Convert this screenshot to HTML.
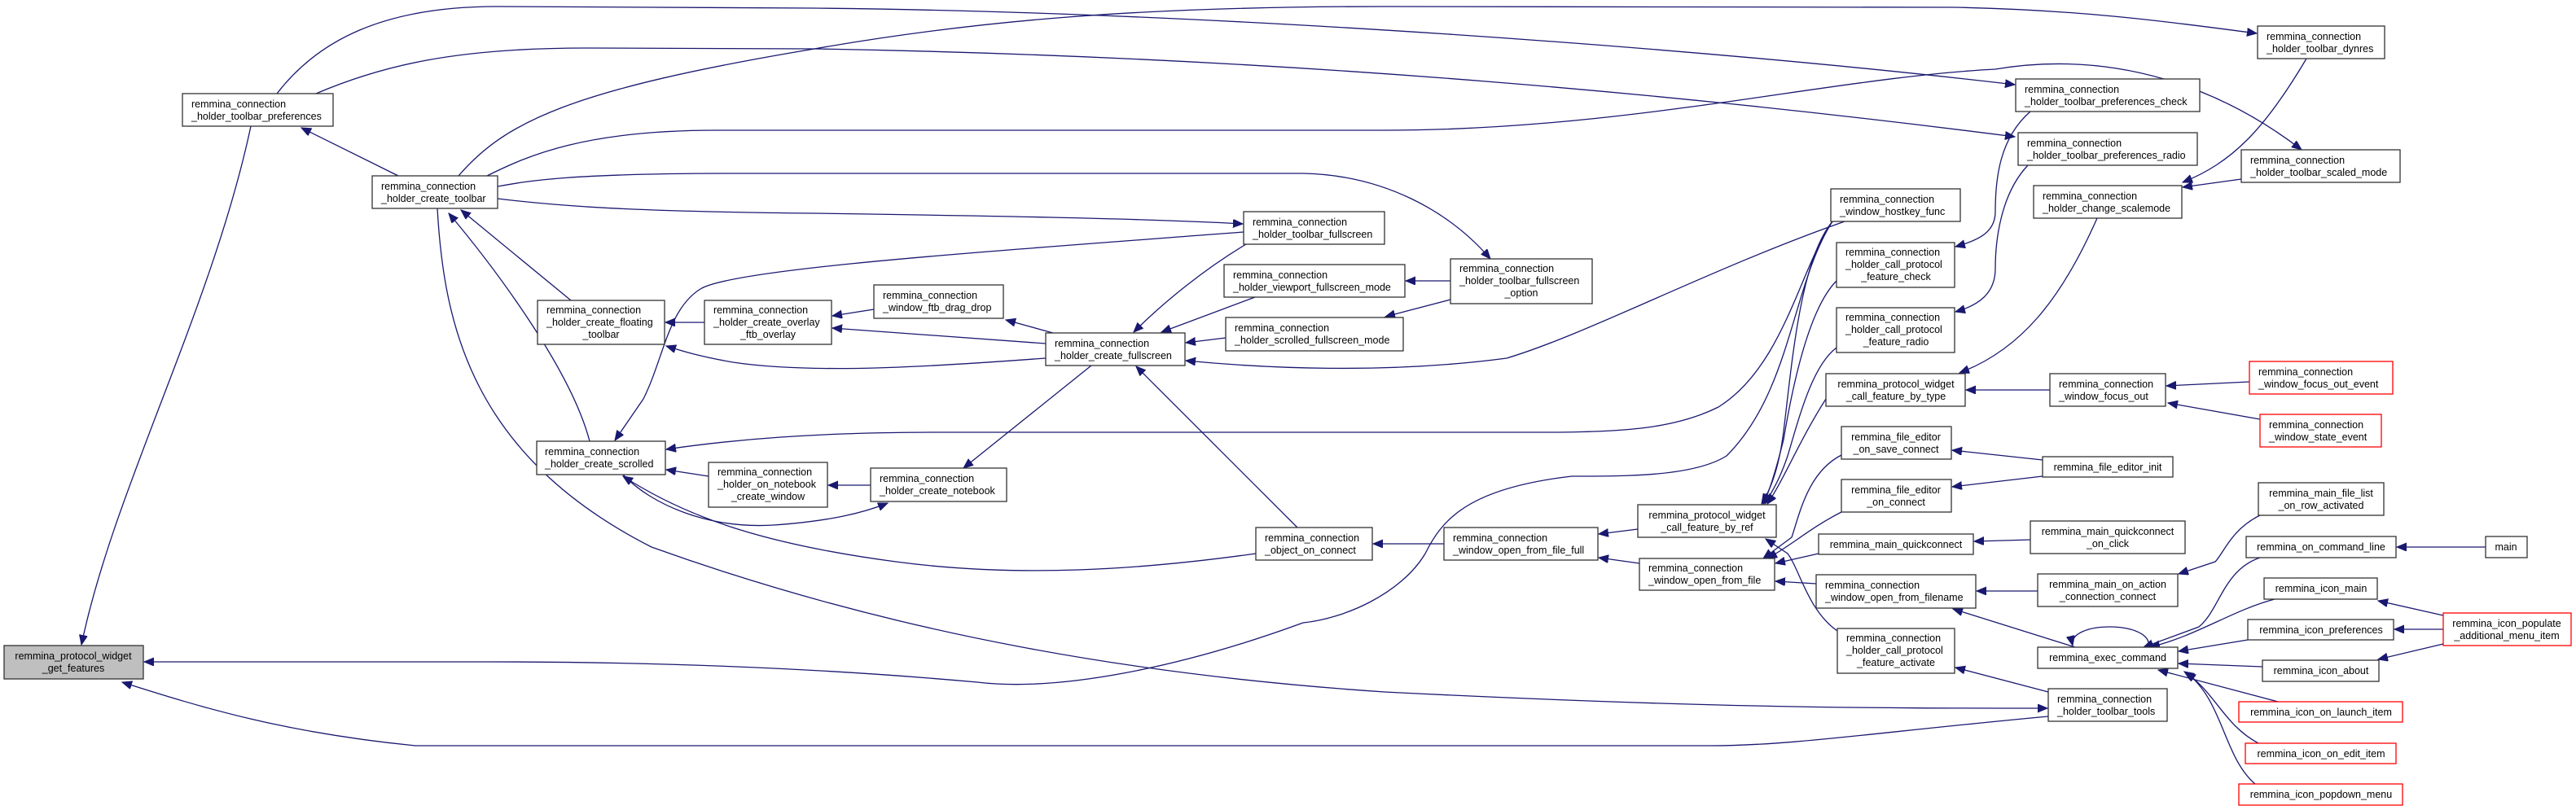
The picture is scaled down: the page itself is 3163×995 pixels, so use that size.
<!DOCTYPE html>
<html><head><meta charset="utf-8"><style>
html,body{margin:0;padding:0;background:#fff;}
svg{display:block;}
text{font-family:"Liberation Sans",sans-serif;font-size:12.5px;fill:#000;}
.e{fill:none;stroke:#191970;stroke-width:1.3;marker-end:url(#a);}
.n{fill:#fff;stroke:#333;stroke-width:1.3;}
.r{fill:#fff;stroke:#ff0000;stroke-width:1.3;}
</style></head><body>
<svg width="3163" height="995" viewBox="0 0 3163 995" xmlns="http://www.w3.org/2000/svg">
<defs><marker id="a" markerUnits="userSpaceOnUse" markerWidth="14" markerHeight="12" refX="12" refY="5" orient="auto"><path d="M0,0 L12,5 L0,10 z" fill="#191970" stroke="#191970"/></marker></defs>
<g>
<path class="e" d="M308,155 C260,380 140,600 100,792"/>
<path class="e" d="M489,216 L370,157"/>
<path class="e" d="M340,115 C390,50 470,8 610,8 L1000,10 C1500,15 2100,60 2474,104"/>
<path class="e" d="M388,115 C470,80 560,59 720,59 L1000,60 C1600,70 2100,120 2474,168"/>
<path class="e" d="M563,216 C620,150 700,110 1000,60 C1200,25 1400,8 1700,8 L2400,9 C2550,12 2650,25 2771,41"/>
<path class="e" d="M598,216 C650,190 720,160 880,160 L1700,160 C2000,160 2250,95 2450,85 C2600,60 2730,110 2826,184"/>
<path class="e" d="M611,229 C650,222 700,213 900,213 L1600,213 C1700,215 1780,260 1830,318"/>
<path class="e" d="M611,244 C700,255 800,260 1000,262 C1200,265 1400,268 1526,275"/>
<path class="e" d="M1527,285 C1200,310 900,330 860,355 C820,380 815,440 790,490 L755,541"/>
<path class="e" d="M537,256 C545,400 580,560 800,672 C1100,780 1400,830 1700,850 C2100,870 2300,870 2514,870"/>
<path class="e" d="M701,369 L566,258"/>
<path class="e" d="M724,542 C700,450 600,320 551,262"/>
<path class="e" d="M865,396 L817,396"/>
<path class="e" d="M1073,380 L1022,388"/>
<path class="e" d="M1284,422 L1022,403"/>
<path class="e" d="M1284,440 C1150,450 1000,460 900,445 C860,438 840,432 818,425"/>
<path class="e" d="M1293,409 L1235,393"/>
<path class="e" d="M1530,300 C1480,330 1430,370 1392,408"/>
<path class="e" d="M1541,365 L1426,408"/>
<path class="e" d="M1505,415 L1456,421"/>
<path class="e" d="M2265,272 C2100,330 1950,410 1850,440 C1700,460 1550,452 1456,443"/>
<path class="e" d="M1781,345 L1726,345"/>
<path class="e" d="M1781,368 L1701,389"/>
<path class="e" d="M1340,449 L1183,575"/>
<path class="e" d="M1593,648 L1395,450"/>
<path class="e" d="M1069,596 L1017,596"/>
<path class="e" d="M870,585 L818,577"/>
<path class="e" d="M765,583 C800,620 870,650 950,645 C1020,640 1060,630 1090,618"/>
<path class="e" d="M1542,680 C1400,700 1250,710 1100,690 C950,670 850,640 765,585"/>
<path class="e" d="M2250,272 C2210,330 2190,450 2110,500 C2060,525 2000,531 1900,531 L1150,531 C1000,531 900,540 818,552"/>
<path class="e" d="M2250,272 C2200,350 2200,480 2120,560 C2080,585 2000,585 1930,585 C1800,600 1770,640 1750,680 C1720,730 1650,760 1600,765 C1450,820 1300,850 1200,838 C1000,820 800,813 600,813 L177,813"/>
<path class="e" d="M2515,880 C2300,900 2200,916 2100,916 L510,916 C350,900 250,870 150,838"/>
<path class="e" d="M2250,272 C2210,320 2200,450 2190,530 C2185,570 2175,600 2163,619"/>
<path class="e" d="M2255,345 C2220,380 2200,480 2190,540 C2180,580 2172,605 2165,619"/>
<path class="e" d="M2255,427 C2225,450 2210,510 2195,560 C2185,590 2175,605 2167,619"/>
<path class="e" d="M2242,490 C2210,540 2190,590 2170,619"/>
<path class="e" d="M2256,775 C2220,750 2210,700 2195,680 L2168,662"/>
<path class="e" d="M2261,559 C2220,580 2210,630 2200,660 L2165,686"/>
<path class="e" d="M2261,629 C2220,650 2200,670 2170,686"/>
<path class="e" d="M2233,680 L2180,692"/>
<path class="e" d="M2230,717 L2180,714"/>
<path class="e" d="M2011,650 L1963,656"/>
<path class="e" d="M2013,692 L1963,685"/>
<path class="e" d="M1773,668 L1686,668"/>
<path class="e" d="M2493,137 C2455,170 2450,220 2450,260 C2450,285 2430,295 2401,303"/>
<path class="e" d="M2490,203 C2455,240 2450,300 2450,330 C2450,360 2430,375 2401,383"/>
<path class="e" d="M2575,268 C2530,370 2480,430 2406,458"/>
<path class="e" d="M2832,72 C2780,160 2740,200 2680,224"/>
<path class="e" d="M2752,220 L2680,230"/>
<path class="e" d="M2517,479 L2414,479"/>
<path class="e" d="M2762,469 L2660,474"/>
<path class="e" d="M2775,515 L2662,495"/>
<path class="e" d="M2508,565 L2397,553"/>
<path class="e" d="M2508,585 L2397,598"/>
<path class="e" d="M2493,663 L2424,665"/>
<path class="e" d="M2502,726 L2427,726"/>
<path class="e" d="M2548,795 L2398,748"/>
<path class="e" d="M2775,633 C2740,650 2730,680 2720,690 L2675,705"/>
<path class="e" d="M2775,685 C2730,700 2725,750 2700,770 L2632,795"/>
<path class="e" d="M2793,736 C2740,750 2700,780 2640,795"/>
<path class="e" d="M2760,786 L2675,800"/>
<path class="e" d="M2778,819 L2675,815"/>
<path class="e" d="M2797,862 L2650,823"/>
<path class="e" d="M2773,913 C2730,890 2720,850 2682,825"/>
<path class="e" d="M2769,963 C2730,930 2730,860 2684,826"/>
<path class="e" d="M2638,795 C2645,762 2538,762 2545,793"/>
<path class="e" d="M3052,672 L2943,672"/>
<path class="e" d="M3000,756 L2920,738"/>
<path class="e" d="M3000,773 L2940,773"/>
<path class="e" d="M3000,791 L2920,810"/>
<path class="e" d="M2515,850 L2401,820"/>
</g>
<g>
<rect x="5" y="793" width="171" height="41" fill="#bfbfbf" stroke="#333" stroke-width="1.3"/>
<text x="90" y="810" text-anchor="middle">remmina_protocol_widget</text><text x="90" y="825" text-anchor="middle">_get_features</text>

<rect class="n" x="224" y="115" width="185" height="40"/><text x="235" y="132">remmina_connection</text><text x="235" y="147">_holder_toolbar_preferences</text>
<rect class="n" x="457" y="216" width="154" height="40"/><text x="468" y="233">remmina_connection</text><text x="468" y="248">_holder_create_toolbar</text>
<rect class="n" x="660" y="369" width="156" height="54"/><text x="671" y="385">remmina_connection</text><text x="671" y="400">_holder_create_floating</text><text x="738" y="415" text-anchor="middle">_toolbar</text>
<rect class="n" x="659" y="542" width="158" height="41"/><text x="669" y="559">remmina_connection</text><text x="669" y="574">_holder_create_scrolled</text>
<rect class="n" x="865" y="369" width="156" height="54"/><text x="876" y="385">remmina_connection</text><text x="876" y="400">_holder_create_overlay</text><text x="943" y="415" text-anchor="middle">_ftb_overlay</text>
<rect class="n" x="870" y="568" width="146" height="55"/><text x="881" y="584">remmina_connection</text><text x="881" y="599">_holder_on_notebook</text><text x="943" y="614" text-anchor="middle">_create_window</text>
<rect class="n" x="1073" y="350" width="159" height="41"/><text x="1084" y="367">remmina_connection</text><text x="1084" y="382">_window_ftb_drag_drop</text>
<rect class="n" x="1069" y="575" width="167" height="41"/><text x="1080" y="592">remmina_connection</text><text x="1080" y="607">_holder_create_notebook</text>
<rect class="n" x="1284" y="409" width="171" height="40"/><text x="1295" y="426">remmina_connection</text><text x="1295" y="441">_holder_create_fullscreen</text>
<rect class="n" x="1527" y="260" width="173" height="40"/><text x="1538" y="277">remmina_connection</text><text x="1538" y="292">_holder_toolbar_fullscreen</text>
<rect class="n" x="1503" y="325" width="222" height="40"/><text x="1514" y="342">remmina_connection</text><text x="1514" y="357">_holder_viewport_fullscreen_mode</text>
<rect class="n" x="1505" y="390" width="218" height="41"/><text x="1516" y="407">remmina_connection</text><text x="1516" y="422">_holder_scrolled_fullscreen_mode</text>
<rect class="n" x="1542" y="648" width="143" height="40"/><text x="1553" y="665">remmina_connection</text><text x="1553" y="680">_object_on_connect</text>
<rect class="n" x="1781" y="318" width="174" height="55"/><text x="1792" y="334">remmina_connection</text><text x="1792" y="349">_holder_toolbar_fullscreen</text><text x="1868" y="364" text-anchor="middle">_option</text>
<rect class="n" x="1773" y="648" width="189" height="40"/><text x="1784" y="665">remmina_connection</text><text x="1784" y="680">_window_open_from_file_full</text>
<rect class="n" x="2011" y="620" width="170" height="40"/><text x="2096" y="637" text-anchor="middle">remmina_protocol_widget</text><text x="2096" y="652" text-anchor="middle">_call_feature_by_ref</text>
<rect class="n" x="2013" y="686" width="166" height="39"/><text x="2024" y="702">remmina_connection</text><text x="2024" y="717">_window_open_from_file</text>
<rect class="n" x="2248" y="232" width="159" height="40"/><text x="2259" y="249">remmina_connection</text><text x="2259" y="264">_window_hostkey_func</text>
<rect class="n" x="2255" y="298" width="145" height="55"/><text x="2266" y="314">remmina_connection</text><text x="2266" y="329">_holder_call_protocol</text><text x="2328" y="344" text-anchor="middle">_feature_check</text>
<rect class="n" x="2255" y="378" width="145" height="55"/><text x="2266" y="394">remmina_connection</text><text x="2266" y="409">_holder_call_protocol</text><text x="2328" y="424" text-anchor="middle">_feature_radio</text>
<rect class="n" x="2242" y="459" width="171" height="40"/><text x="2328" y="476" text-anchor="middle">remmina_protocol_widget</text><text x="2328" y="491" text-anchor="middle">_call_feature_by_type</text>
<rect class="n" x="2261" y="524" width="135" height="40"/><text x="2328" y="541" text-anchor="middle">remmina_file_editor</text><text x="2328" y="556" text-anchor="middle">_on_save_connect</text>
<rect class="n" x="2261" y="589" width="135" height="40"/><text x="2328" y="606" text-anchor="middle">remmina_file_editor</text><text x="2328" y="621" text-anchor="middle">_on_connect</text>
<rect class="n" x="2233" y="656" width="190" height="25"/><text x="2328" y="673" text-anchor="middle">remmina_main_quickconnect</text>
<rect class="n" x="2230" y="706" width="196" height="41"/><text x="2241" y="723">remmina_connection</text><text x="2241" y="738">_window_open_from_filename</text>
<rect class="n" x="2256" y="772" width="144" height="55"/><text x="2267" y="788">remmina_connection</text><text x="2267" y="803">_holder_call_protocol</text><text x="2328" y="818" text-anchor="middle">_feature_activate</text>
<rect class="n" x="2475" y="97" width="226" height="40"/><text x="2486" y="114">remmina_connection</text><text x="2486" y="129">_holder_toolbar_preferences_check</text>
<rect class="n" x="2478" y="163" width="220" height="40"/><text x="2489" y="180">remmina_connection</text><text x="2489" y="195">_holder_toolbar_preferences_radio</text>
<rect class="n" x="2497" y="228" width="182" height="40"/><text x="2508" y="245">remmina_connection</text><text x="2508" y="260">_holder_change_scalemode</text>
<rect class="n" x="2517" y="459" width="142" height="40"/><text x="2528" y="476">remmina_connection</text><text x="2528" y="491">_window_focus_out</text>
<rect class="n" x="2508" y="561" width="160" height="25"/><text x="2588" y="578" text-anchor="middle">remmina_file_editor_init</text>
<rect class="n" x="2493" y="640" width="190" height="40"/><text x="2588" y="657" text-anchor="middle">remmina_main_quickconnect</text><text x="2588" y="672" text-anchor="middle">_on_click</text>
<rect class="n" x="2502" y="705" width="172" height="40"/><text x="2588" y="722" text-anchor="middle">remmina_main_on_action</text><text x="2588" y="737" text-anchor="middle">_connection_connect</text>
<rect class="n" x="2502" y="795" width="172" height="26"/><text x="2588" y="812" text-anchor="middle">remmina_exec_command</text>
<rect class="n" x="2515" y="846" width="146" height="40"/><text x="2526" y="863">remmina_connection</text><text x="2526" y="878">_holder_toolbar_tools</text>
<rect class="n" x="2772" y="32" width="156" height="40"/><text x="2783" y="49">remmina_connection</text><text x="2783" y="64">_holder_toolbar_dynres</text>
<rect class="n" x="2752" y="184" width="195" height="40"/><text x="2763" y="201">remmina_connection</text><text x="2763" y="216">_holder_toolbar_scaled_mode</text>
<rect class="r" x="2762" y="444" width="176" height="40"/><text x="2773" y="461">remmina_connection</text><text x="2773" y="476">_window_focus_out_event</text>
<rect class="r" x="2775" y="509" width="149" height="40"/><text x="2786" y="526">remmina_connection</text><text x="2786" y="541">_window_state_event</text>
<rect class="n" x="2773" y="593" width="154" height="40"/><text x="2850" y="610" text-anchor="middle">remmina_main_file_list</text><text x="2850" y="625" text-anchor="middle">_on_row_activated</text>
<rect class="n" x="2758" y="659" width="184" height="26"/><text x="2850" y="676" text-anchor="middle">remmina_on_command_line</text>
<rect class="n" x="2780" y="710" width="139" height="26"/><text x="2850" y="727" text-anchor="middle">remmina_icon_main</text>
<rect class="n" x="2760" y="761" width="179" height="25"/><text x="2850" y="778" text-anchor="middle">remmina_icon_preferences</text>
<rect class="n" x="2778" y="811" width="143" height="26"/><text x="2850" y="828" text-anchor="middle">remmina_icon_about</text>
<rect class="r" x="2749" y="862" width="201" height="25"/><text x="2850" y="879" text-anchor="middle">remmina_icon_on_launch_item</text>
<rect class="r" x="2757" y="913" width="185" height="25"/><text x="2850" y="930" text-anchor="middle">remmina_icon_on_edit_item</text>
<rect class="r" x="2749" y="963" width="201" height="26"/><text x="2850" y="980" text-anchor="middle">remmina_icon_popdown_menu</text>
<rect class="n" x="3052" y="659" width="51" height="26"/><text x="3077" y="676" text-anchor="middle">main</text>
<rect class="r" x="3000" y="753" width="157" height="40"/><text x="3078" y="770" text-anchor="middle">remmina_icon_populate</text><text x="3078" y="785" text-anchor="middle">_additional_menu_item</text>
</g>
</svg>
</body></html>
